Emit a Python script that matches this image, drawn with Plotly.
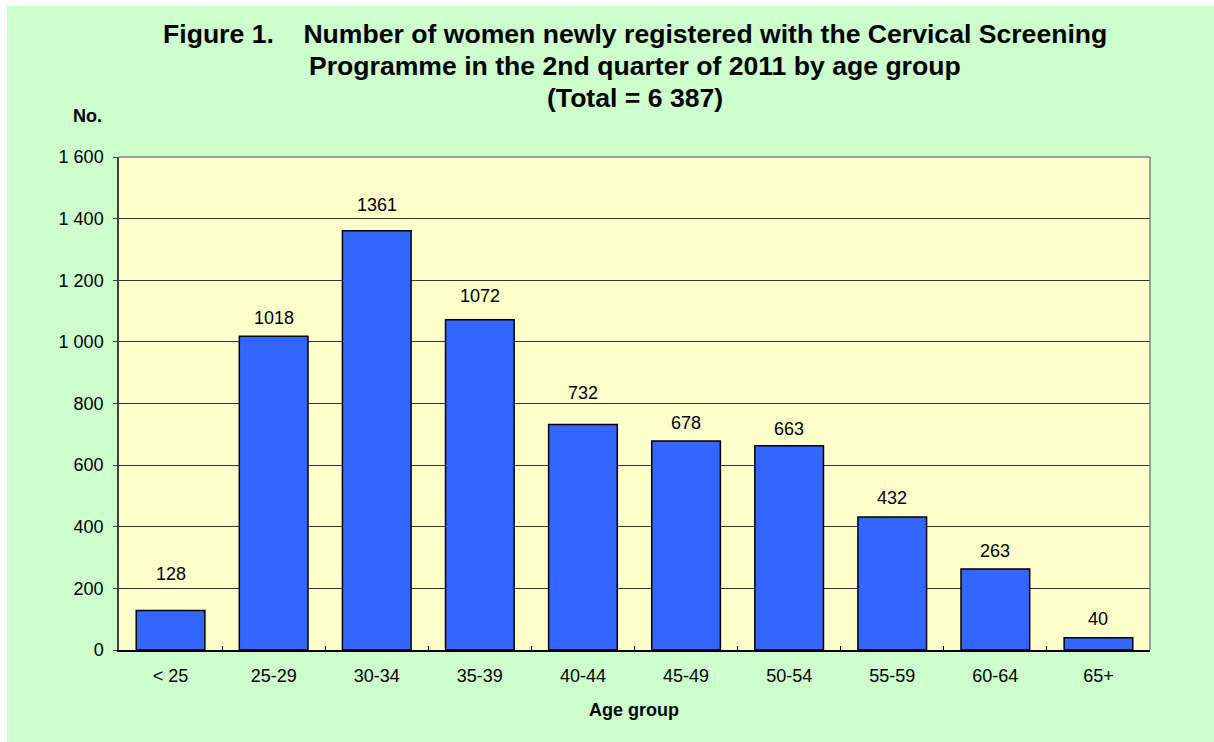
import plotly.graph_objects as go

categories = ["< 25", "25-29", "30-34", "35-39", "40-44", "45-49", "50-54", "55-59", "60-64", "65+"]
values = [128, 1018, 1361, 1072, 732, 678, 663, 432, 263, 40]
y_tickvals = [0, 200, 400, 600, 800, 1000, 1200, 1400, 1600]
y_ticktext = ["0", "200", "400", "600", "800", "1 000", "1 200", "1 400", "1 600"]
title_lines = [
    "Figure 1.\u00a0\u00a0\u00a0\u00a0Number of women newly registered with the Cervical Screening",
    "Programme in the 2nd quarter of 2011 by age group",
    "(Total = 6 387)",
]

# ---- styling / layout ----
FONT = "Liberation Sans, Arial, sans-serif"
W, H = 1214, 742
ML, MR, MT, MB = 119, 64, 157, 92
PW, PH = W - ML - MR, H - MT - MB
label_lift_px = [37, 18, 26, 24, 31, 18, 17, 19, 18, 19]  # vertical pixel lift of each value label


def px_x(p):
    return (p - ML) / PW


def px_y(p):
    return (H - MB - p) / PH


fig = go.Figure()
fig.add_trace(go.Bar(
    x=categories, y=values,
    marker=dict(color="#3366FF", line=dict(color="#000000", width=1.5)),
    width=0.666,
    hoverinfo="x+y",
))

annotations = []
for c, v, lift in zip(categories, values, label_lift_px):
    annotations.append(dict(x=c, y=v, xref="x", yref="y", text=str(v), showarrow=False,
                            yanchor="middle", yshift=lift,
                            font=dict(family=FONT, size=18, color="#000")))
title_y = [34, 66, 98.5]
for t, yy in zip(title_lines, title_y):
    annotations.append(dict(x=px_x(635), y=px_y(yy), xref="paper", yref="paper", text="<b>%s</b>" % t,
                            showarrow=False, xanchor="center", yanchor="middle",
                            font=dict(family=FONT, size=26.6, color="#000")))
annotations.append(dict(x=px_x(104), y=px_y(116), xref="paper", yref="paper", text="<b>No.</b>",
                        showarrow=False, xanchor="right", yanchor="middle",
                        font=dict(family=FONT, size=18, color="#000")))
annotations.append(dict(x=px_x(634), y=px_y(710), xref="paper", yref="paper", text="<b>Age group</b>",
                        showarrow=False, xanchor="center", yanchor="middle",
                        font=dict(family=FONT, size=18, color="#000")))

shapes = [
    # white strips at the left and top edges of the green page
    dict(type="rect", xref="paper", yref="paper", x0=px_x(-2), x1=px_x(7), y0=px_y(-2), y1=px_y(H + 2),
         fillcolor="#FFFFFF", line=dict(width=0), layer="below"),
    dict(type="rect", xref="paper", yref="paper", x0=px_x(-2), x1=px_x(W + 2), y0=px_y(-2), y1=px_y(6),
         fillcolor="#FFFFFF", line=dict(width=0), layer="below"),
    dict(type="line", xref="paper", yref="paper", x0=0, x1=1, y0=1, y1=1,
         line=dict(color="#808080", width=1.5)),
    dict(type="line", xref="paper", yref="paper", x0=1, x1=1, y0=0, y1=1,
         line=dict(color="#808080", width=1.5)),
]

fig.update_layout(
    width=W, height=H,
    margin=dict(l=ML, r=MR, t=MT, b=MB),
    paper_bgcolor="#CCFFCC",
    plot_bgcolor="#FFFFCC",
    showlegend=False,
    font=dict(family=FONT, size=18, color="#000"),
    annotations=annotations,
    shapes=shapes,
    xaxis=dict(
        type="category",
        showgrid=False,
        showline=True, linecolor="#000000", linewidth=1.5,
        ticks="inside", tickson="boundaries", ticklen=4, tickcolor="#000000",
        tickfont=dict(family=FONT, size=18, color="#000"),
        ticklabelstandoff=9,
    ),
    yaxis=dict(
        range=[0, 1600],
        tickvals=y_tickvals, ticktext=y_ticktext,
        showgrid=True, gridcolor="#333333", gridwidth=1,
        showline=True, linecolor="#404040", linewidth=1.5,
        ticks="outside", ticklen=4, tickcolor="#404040",
        tickfont=dict(family=FONT, size=18, color="#000"),
        zeroline=False,
        ticklabelstandoff=6,
    ),
)

fig.write_html("out.html", config={"displayModeBar": False},
               post_script="document.body.style.margin='0px';document.body.style.overflow='hidden';")
